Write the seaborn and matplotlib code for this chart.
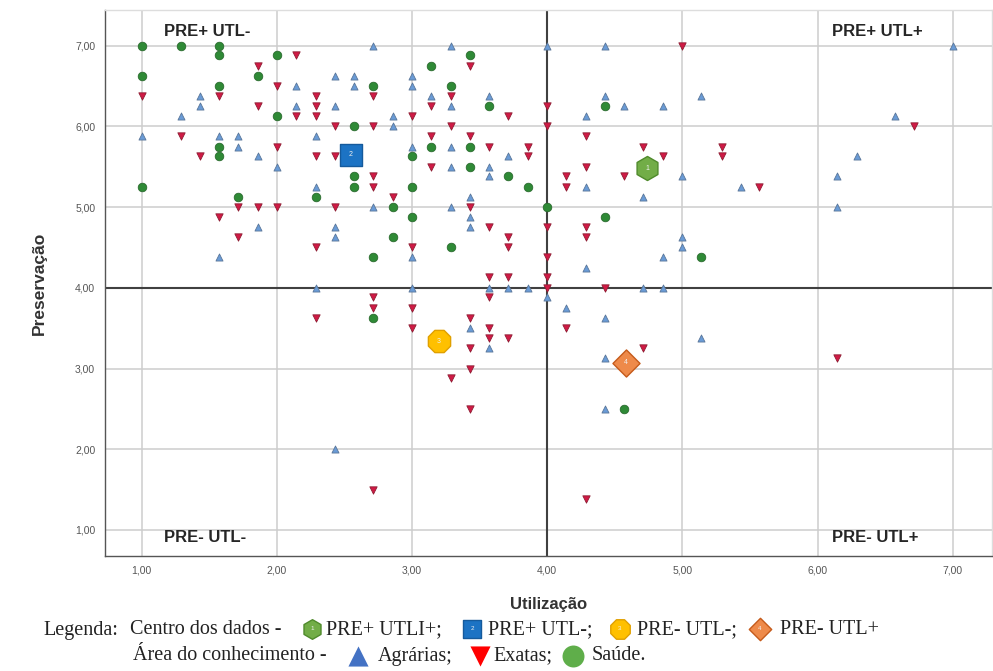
import matplotlib
matplotlib.use("Agg")
import matplotlib.pyplot as plt
import seaborn as sns
import pandas as pd
from matplotlib.ticker import FixedLocator, FuncFormatter

# ---------------- data ----------------
agr_x = [2.71, 2.43, 2.57, 2.57, 3.00, 3.00, 2.14, 1.43, 1.43, 2.14, 2.43, 1.29, 2.86, 2.86, 1.00,
         1.57, 1.71, 1.71, 1.86, 2.00, 2.29, 3.00, 2.29, 2.71, 1.86, 2.43, 2.43, 3.00, 1.57, 2.29, 3.00,
         3.14, 3.29, 3.29, 3.29, 3.29, 3.29, 3.43, 3.43, 3.43, 3.57, 3.57, 3.57, 3.57, 3.71, 3.71, 3.86,
         4.00, 4.00, 4.29, 4.29, 4.29, 4.43, 4.43, 4.57, 4.71, 4.71, 4.86, 4.86, 4.86, 5.00, 5.00, 5.00,
         5.14, 5.43, 7.00, 6.57, 6.29, 6.14, 6.14,
         4.14, 4.43, 3.43, 3.57, 4.43, 4.43, 5.14, 2.43]
agr_y = [7.00, 6.63, 6.63, 6.50, 6.63, 6.50, 6.50, 6.38, 6.25, 6.25, 6.25, 6.13, 6.13, 6.00, 5.88,
         5.88, 5.88, 5.75, 5.63, 5.50, 5.88, 5.75, 5.25, 5.00, 4.75, 4.75, 4.63, 4.38, 4.38, 4.00, 4.00,
         6.38, 7.00, 6.25, 5.75, 5.50, 5.00, 5.13, 4.88, 4.75, 6.38, 5.50, 5.38, 4.00, 5.63, 4.00, 4.00,
         7.00, 3.88, 6.13, 5.25, 4.25, 7.00, 6.38, 6.25, 5.13, 4.00, 6.25, 4.38, 4.00, 5.38, 4.63, 4.50,
         6.38, 5.25, 7.00, 6.13, 5.63, 5.38, 5.00,
         3.75, 3.63, 3.50, 3.25, 3.13, 2.50, 3.38, 2.00]

exa_x = [2.14, 1.86, 2.71, 2.00, 1.00, 1.57, 1.86, 2.29, 2.29, 2.29, 2.14, 3.00, 2.43, 2.71, 1.29,
         1.43, 2.00, 2.29, 2.43, 2.71, 2.71, 2.86, 1.71, 1.86, 2.00, 2.43, 1.57, 1.71, 2.29, 3.00,
         3.14, 3.14, 3.14, 3.29, 3.29, 3.43, 3.43, 3.43, 3.57, 3.57, 3.57, 3.57, 3.71, 3.71, 3.71, 3.71,
         3.86, 3.86, 4.00, 4.00, 4.00, 4.00, 4.00, 4.00, 4.14, 4.14, 4.29, 4.29, 4.29, 4.29, 4.43, 4.57,
         4.71, 4.86, 5.00, 5.29, 5.29, 5.57, 6.71,
         2.29, 2.71, 2.71, 3.00, 3.00, 2.71,
         4.14, 3.43, 3.57, 3.57, 3.71, 3.43, 3.43, 3.29, 3.43, 4.71, 4.29, 6.14]
exa_y = [6.88, 6.75, 6.38, 6.50, 6.38, 6.38, 6.25, 6.38, 6.25, 6.13, 6.13, 6.13, 6.00, 6.00, 5.88,
         5.63, 5.75, 5.63, 5.63, 5.38, 5.25, 5.13, 5.00, 5.00, 5.00, 5.00, 4.88, 4.63, 4.50, 4.50,
         6.25, 5.88, 5.50, 6.38, 6.00, 6.75, 5.88, 5.00, 5.75, 4.75, 4.13, 3.88, 6.13, 4.63, 4.50, 4.13,
         5.75, 5.63, 6.25, 6.00, 4.75, 4.38, 4.13, 4.00, 5.38, 5.25, 5.88, 5.50, 4.75, 4.63, 4.00, 5.38,
         5.75, 5.63, 7.00, 5.75, 5.63, 5.25, 6.00,
         3.63, 3.88, 3.75, 3.75, 3.50, 1.50,
         3.50, 3.63, 3.50, 3.38, 3.38, 3.25, 3.00, 2.88, 2.50, 3.25, 1.38, 3.13]

sau_x = [1.00, 1.29, 1.57, 1.57, 2.00, 1.86, 1.00, 2.71, 1.57, 2.00, 2.57, 1.57, 1.57, 3.00, 2.57,
         2.57, 1.00, 2.29, 3.00, 1.71, 2.86, 3.00, 2.86, 2.71,
         3.14, 3.14, 3.29, 3.29, 3.43, 3.43, 3.43, 3.57, 3.71, 3.86, 4.00, 4.43, 4.43, 5.14, 2.71, 4.57]
sau_y = [7.00, 7.00, 7.00, 6.88, 6.88, 6.63, 6.63, 6.50, 6.50, 6.13, 6.00, 5.75, 5.63, 5.63, 5.38,
         5.25, 5.25, 5.13, 5.25, 5.13, 5.00, 4.88, 4.63, 4.38,
         6.75, 5.75, 6.50, 4.50, 6.88, 5.75, 5.50, 6.25, 5.38, 5.25, 5.00, 6.25, 4.88, 4.38, 3.63, 2.50]

area_names = ["Agrárias", "Exatas", "Saúde"]

center_x = [4.74, 2.55, 3.20, 4.58]
center_y = [5.48, 5.65, 3.34, 3.07]
center_ids = ["1", "2", "3", "4"]
center_names = ["PRE+ UTLI+;", "PRE+ UTL-;", "PRE- UTL-;", "PRE- UTL+"]

x_ticks = [1, 2, 3, 4, 5, 6, 7]
y_ticks = [1, 2, 3, 4, 5, 6, 7]
quadrant_labels = ["PRE+ UTL-", "PRE+ UTL+", "PRE- UTL-", "PRE- UTL+"]

# ---------------- build frames ----------------
points = pd.DataFrame({
    "Utilização": agr_x + exa_x + sau_x,
    "Preservação": agr_y + exa_y + sau_y,
    "Área": [area_names[0]] * len(agr_x) + [area_names[1]] * len(exa_x) + [area_names[2]] * len(sau_x),
})
centers = pd.DataFrame({"Utilização": center_x, "Preservação": center_y, "Centro": center_ids})

# ---------------- figure ----------------
sns.set_style("white")
plt.rcParams["font.family"] = ["Liberation Sans", "DejaVu Sans"]

W, H = 993, 671
fig = plt.figure(figsize=(W / 100, H / 100), dpi=100)
L, R, T, B = 105, 992, 10, 556
ax = fig.add_axes([L / W, 1 - B / H, (R - L) / W, (B - T) / H])

# grid
for v in x_ticks:
    ax.axvline(v, color="#cdcdcd", lw=1.1, zorder=0)
for v in y_ticks:
    ax.axhline(v, color="#cdcdcd", lw=1.1, zorder=0)
ax.axvline(4, color="#404040", lw=1.5, zorder=1)
ax.axhline(4, color="#404040", lw=1.5, zorder=1)

area_palette = {"Agrárias": "#6a9bd6", "Exatas": "#d01a45", "Saúde": "#2f8a36"}
area_markers = {"Agrárias": "^", "Exatas": "v", "Saúde": "o"}
area_edges = {"Agrárias": "#5a7699", "Exatas": "#8e1d33", "Saúde": "#2a6a2e"}
area_sizes = {"Agrárias": 26, "Exatas": 28, "Saúde": 38}

for name in area_names:
    sub = points[points["Área"] == name]
    sns.scatterplot(data=sub, x="Utilização", y="Preservação", ax=ax,
                    marker=area_markers[name], color=area_palette[name],
                    edgecolor=area_edges[name], linewidth=0.6, s=area_sizes[name],
                    legend=False, zorder=3)

center_style = {
    "1": dict(marker="h", color="#72ad47", edgecolor="#4f8a2b", s=300),
    "2": dict(marker="s", color="#1c73c4", edgecolor="#155a9c", s=260),
    "3": dict(marker="8", color="#ffc000", edgecolor="#e0a000", s=300),
    "4": dict(marker="D", color="#ee8a4a", edgecolor="#c55a1a", s=190),
}
for cid in center_ids:
    sub = centers[centers["Centro"] == cid]
    st = center_style[cid]
    sns.scatterplot(data=sub, x="Utilização", y="Preservação", ax=ax,
                    marker=st["marker"], color=st["color"], edgecolor=st["edgecolor"],
                    linewidth=1.0, s=st["s"], legend=False, zorder=5)
    ax.text(sub["Utilização"].iloc[0], sub["Preservação"].iloc[0], cid,
            ha="center", va="center", fontsize=5, color="#f0f0f0", zorder=6)

ax.set_xlim(0.73, 7.29)
ax.set_ylim(0.677, 7.442)
ax.xaxis.set_major_locator(FixedLocator(x_ticks))
ax.yaxis.set_major_locator(FixedLocator(y_ticks))
fmt = FuncFormatter(lambda v, p: f"{v:.2f}".replace(".", ","))
ax.xaxis.set_major_formatter(fmt)
ax.yaxis.set_major_formatter(fmt)
ax.tick_params(axis="both", labelsize=7.5, labelcolor="#555555", length=4, color="#9a9a9a",
               direction="out", width=0.8, pad=3)
ax.set_xlabel("Utilização", fontsize=12, fontweight="bold", color="#333333", labelpad=15)
ax.set_ylabel("Preservação", fontsize=12.5, fontweight="bold", color="#333333", labelpad=20)
for s in ["left", "bottom"]:
    ax.spines[s].set_color("#555555")
    ax.spines[s].set_linewidth(1.0)
for s in ["top", "right"]:
    ax.spines[s].set_color("#dddddd")
    ax.spines[s].set_linewidth(1.0)

# quadrant labels
qk = dict(fontsize=12, fontweight="bold", color="#262626", va="center", ha="left")
ax.text(1.17, 7.18, quadrant_labels[0], **qk)
ax.text(6.11, 7.18, quadrant_labels[1], **qk)
ax.text(1.17, 0.91, quadrant_labels[2], **qk)
ax.text(6.11, 0.91, quadrant_labels[3], **qk)

# ---------------- caption legend (pixel overlay) ----------------
ov = fig.add_axes([0, 0, 1, 1], facecolor="none")
ov.set_xlim(0, W)
ov.set_ylim(H, 0)
ov.axis("off")
serif = ["Liberation Serif", "DejaVu Serif"]
tk = dict(fontsize=14.5, family=serif, color="#222222", va="center", ha="left")
y1, y2 = 630, 656
ov.text(43, y1, "Legenda:", **tk)
ov.text(130, y1, "Centro dos dados -", **tk)
icon_x = [312, 472, 620, 760]
text_x = [326, 488, 637, 780]
icon_s = {"1": 200, "2": 170, "3": 230, "4": 130}
for cid, ix, tx, nm in zip(center_ids, icon_x, text_x, center_names):
    st = center_style[cid]
    ov.scatter([ix], [y1 - 1], marker=st["marker"], s=icon_s[cid], color=st["color"],
               edgecolor=st["edgecolor"], linewidth=1.0, zorder=5)
    ov.text(ix, y1 - 1, cid, fontsize=4.5, color="#f0f0f0", ha="center", va="center", zorder=6)
    ov.text(tx, y1, nm, **tk)

ov.text(133, y2, "Área do conhecimento -", **tk)
leg_icon = {"Agrárias": ("^", "#4472c4", 358), "Exatas": ("v", "#ff0000", 480), "Saúde": ("o", "#5fae4a", 573)}
leg_text_x = {"Agrárias": 378, "Exatas": 493, "Saúde": 592}
leg_text = {"Agrárias": "Agrárias;", "Exatas": "Exatas;", "Saúde": "Saúde."}
for name in area_names:
    m, c, ix = leg_icon[name]
    ov.scatter([ix], [y2], marker=m, s=210 if m != "o" else 250, color=c, linewidth=0, zorder=5)
    ov.text(leg_text_x[name], y2, leg_text[name], **tk)

fig.savefig("out.png", dpi=100)
